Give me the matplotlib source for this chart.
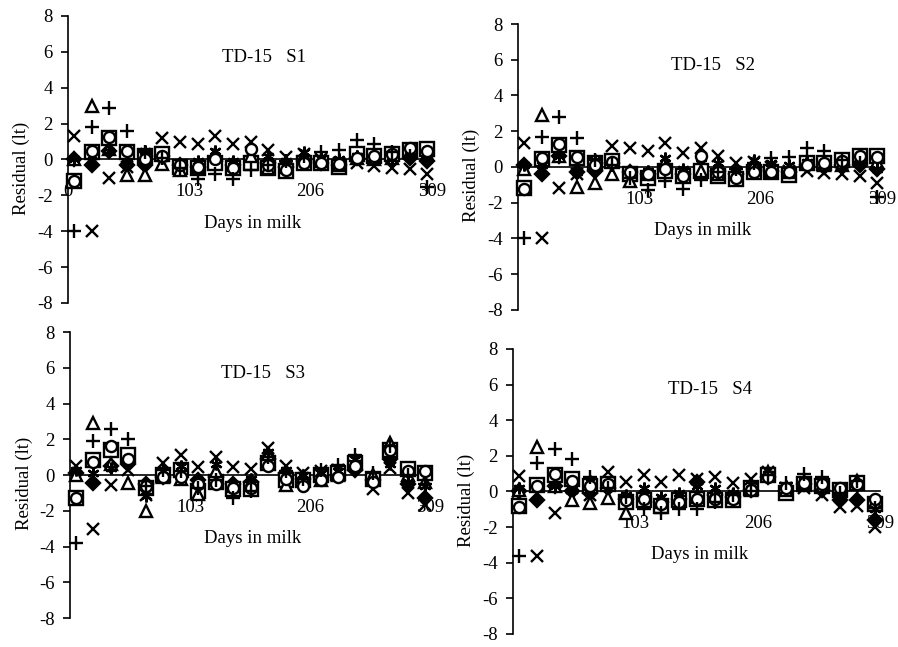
import numpy as np
import matplotlib
matplotlib.use("Agg")
import matplotlib.pyplot as plt

plt.rcParams['font.family'] = ['Liberation Serif', 'DejaVu Serif']
plt.rcParams['axes.unicode_minus'] = False

# test days (days in milk)
days = [5, 20, 35, 50, 65, 80, 95, 110, 125, 140, 155,
        170, 185, 200, 215, 230, 245, 260, 275, 290, 305]

panel_titles = ['TD-15   S1', 'TD-15   S2', 'TD-15   S3', 'TD-15   S4']
x_ticks = [0, 103, 206, 309]
x_ticklabels_first = ['0', '103', '206', '309']
x_ticklabels_other = ['', '103', '206', '309']
y_ticks = [-8, -6, -4, -2, 0, 2, 4, 6, 8]

# S1
s1_diamond = [0.0, -0.3, 0.5, -0.3, -0.3, 0.2, -0.3, -0.4, -0.1, -0.3, 0.0,
              -0.2, -0.4, -0.1, -0.2, -0.3, 0.1, 0.0, 0.0, 0.1, -0.1]
s1_square = [-1.2, 0.4, 1.2, 0.4, 0.2, 0.3, -0.4, -0.5, -0.2, -0.5, -0.2,
             -0.45, -0.65, -0.2, -0.2, -0.4, 0.3, 0.2, 0.3, 0.55, 0.6]
s1_triangle = [0.0, 3.0, 0.6, -0.85, -0.85, -0.25, -0.6, -0.4, 0.3, -0.3, 0.2,
               -0.5, -0.4, 0.2, -0.1, -0.3, 0.1, 0.0, 0.1, 0.4, 0.3]
s1_cross = [1.3, -4.0, -1.05, -0.4, 0.2, 1.2, 0.95, 0.85, 1.3, 0.85, 1.0,
            0.55, 0.15, 0.3, 0.0, -0.2, -0.2, -0.35, -0.45, -0.55, -0.8]
s1_star = [0.0, 0.2, 0.5, -0.2, 0.5, 0.1, -0.3, -0.1, 0.5, -0.1, 0.6,
           0.2, -0.1, 0.4, 0.1, 0.0, 0.2, 0.1, 0.0, 0.2, 0.0]
s1_circle = [-1.2, 0.5, 1.25, 0.45, 0.0, 0.2, -0.3, -0.4, 0.0, -0.45, 0.6,
             -0.3, -0.6, -0.2, -0.2, -0.25, 0.1, 0.2, 0.3, 0.65, 0.5]
s1_plus = [-4.0, 1.8, 2.85, 1.6, 0.4, 0.1, -0.5, -1.1, -0.8, -1.1, -0.6,
           -0.3, -0.1, 0.2, 0.4, 0.55, 1.1, 0.85, 0.4, 0.2, -1.55]

# S2
s2_diamond = [0.1, -0.4, 0.6, -0.3, -0.2, 0.2, -0.3, -0.4, -0.1, -0.4, 0.0,
              -0.2, -0.4, -0.1, -0.2, -0.3, 0.1, 0.0, 0.1, 0.1, -0.1]
s2_square = [-1.2, 0.45, 1.25, 0.5, 0.2, 0.35, -0.4, -0.6, -0.2, -0.5, -0.2,
             -0.5, -0.65, -0.3, -0.3, -0.45, 0.2, 0.2, 0.4, 0.6, 0.6]
s2_triangle = [-0.1, 2.9, 0.6, -1.1, -0.9, -0.4, -0.8, -0.4, 0.3, -0.3, -0.2,
               -0.4, -0.4, 0.2, -0.2, -0.3, 0.2, 0.1, 0.1, 0.5, 0.3]
s2_cross = [1.35, -4.0, -1.2, -0.4, 0.2, 1.15, 1.05, 0.9, 1.35, 0.8, 1.05,
            0.6, 0.2, 0.3, 0.0, -0.2, -0.2, -0.35, -0.4, -0.5, -0.9]
s2_star = [0.1, 0.1, 0.6, -0.3, 0.4, 0.2, -0.3, -0.2, 0.5, -0.1, 0.5,
           0.2, -0.1, 0.4, 0.2, 0.1, 0.3, 0.1, 0.0, 0.2, -0.1]
s2_circle = [-1.25, 0.5, 1.3, 0.55, 0.1, 0.3, -0.3, -0.4, -0.1, -0.5, 0.6,
             -0.3, -0.6, -0.3, -0.3, -0.3, 0.1, 0.2, 0.35, 0.6, 0.55]
s2_plus = [-4.0, 1.7, 2.8, 1.6, 0.4, 0.1, -0.6, -1.3, -0.8, -1.25, -0.7,
           -0.3, -0.1, 0.2, 0.5, 0.55, 1.05, 0.9, 0.4, 0.2, -1.7]

# S3
s3_diamond = [0.1, -0.45, 0.5, 0.6, -0.5, -0.1, 0.0, -0.3, -0.1, -0.5, -0.4,
              0.9, 0.1, -0.2, -0.1, 0.0, 0.3, -0.3, 0.9, -0.5, -1.3]
s3_square = [-1.3, 0.85, 1.4, 1.1, -0.7, 0.0, 0.3, -0.9, -0.4, -0.8, -0.8,
             0.7, -0.3, -0.3, 0.0, 0.1, 0.7, -0.2, 1.4, 0.35, 0.1]
s3_triangle = [0.0, 2.9, 0.6, -0.45, -2.0, -0.1, -0.2, -1.05, 0.2, -0.6, -0.4,
               1.2, -0.55, -0.1, -0.3, 0.0, 0.6, 0.0, 1.8, 0.0, -0.4]
s3_cross = [0.5, -3.0, -0.55, 0.3, -1.1, 0.65, 1.1, 0.45, 1.0, 0.45, 0.35,
            1.5, 0.5, 0.1, 0.2, 0.3, 0.5, -0.8, 0.4, -1.0, -1.7]
s3_star = [0.3, 0.1, 0.4, 0.8, -1.2, 0.2, 0.5, -0.3, 0.6, -0.5, -0.2,
           1.3, 0.3, 0.0, 0.1, 0.2, 0.9, -0.4, 0.6, -0.4, -0.6]
s3_circle = [-1.3, 0.75, 1.6, 0.9, -0.6, -0.1, -0.1, -0.5, -0.5, -0.7, -0.7,
             0.5, -0.2, -0.6, -0.3, -0.1, 0.5, -0.4, 1.4, 0.25, 0.2]
s3_plus = [-3.8, 1.9, 2.6, 2.0, -0.6, 0.3, 0.2, -0.7, -0.3, -1.3, -0.9,
           1.0, 0.2, -0.2, 0.3, 0.55, 1.1, 0.1, 1.6, 0.0, -0.5]

# S4
s4_diamond = [0.0, -0.5, 0.3, 0.0, -0.1, 0.2, -0.4, -0.3, -0.6, -0.4, 0.55,
              -0.2, -0.3, 0.1, 0.8, 0.0, 0.4, 0.1, -0.5, -0.5, -1.6]
s4_square = [-0.8, 0.35, 0.9, 0.7, 0.3, 0.4, -0.6, -0.5, -0.8, -0.5, -0.4,
             -0.5, -0.5, 0.2, 0.9, -0.1, 0.4, 0.3, 0.1, 0.5, -0.7]
s4_triangle = [0.1, 2.5, 0.3, -0.45, -0.65, -0.35, -1.2, -0.2, -0.6, -0.3, -0.3,
               -0.1, -0.3, 0.1, 1.1, 0.1, 0.5, 0.3, 0.1, 0.6, -0.6]
s4_cross = [0.85, -3.6, -1.2, 0.2, -0.2, 1.1, 0.55, 0.95, 0.55, 0.9, 0.7,
            0.8, 0.45, 0.7, 1.1, 0.2, 0.2, -0.2, -0.85, -0.8, -2.0]
s4_star = [0.2, 0.2, 0.3, 0.1, 0.6, 0.5, -0.2, 0.2, -0.3, -0.1, 0.3,
           0.2, -0.1, 0.4, 1.0, 0.3, 0.6, 0.3, -0.3, 0.3, -1.0]
s4_circle = [-0.85, 0.3, 1.0, 0.6, 0.3, 0.4, -0.5, -0.4, -0.7, -0.6, -0.4,
             -0.4, -0.4, 0.1, 0.8, 0.2, 0.5, 0.4, 0.2, 0.4, -0.4]
s4_plus = [-3.6, 1.6, 2.4, 1.8, 0.8, 0.2, -0.3, -1.0, -1.2, -1.0, -1.0,
           -0.6, -0.2, 0.0, 0.9, 0.5, 1.0, 0.8, -0.1, 0.6, -0.9]

panels = [
    [s1_diamond, s1_square, s1_triangle, s1_cross, s1_star, s1_circle, s1_plus],
    [s2_diamond, s2_square, s2_triangle, s2_cross, s2_star, s2_circle, s2_plus],
    [s3_diamond, s3_square, s3_triangle, s3_cross, s3_star, s3_circle, s3_plus],
    [s4_diamond, s4_square, s4_triangle, s4_cross, s4_star, s4_circle, s4_plus],
]

# marker style per series: marker, size, face colour
styles = [
    ('D', 7.0, 'black'),
    ('s', 9.5, 'white'),
    ('^', 8.5, 'white'),
    ('x', 8.0, 'none'),
    ((6, 2, 0), 8.5, 'none'),
    ('o', 8.0, 'white'),
    ('+', 9.5, 'none'),
]

# axes rectangles [left, bottom, width, height] in figure fraction
rects = [
    [0.0757, 0.5317, 0.4053, 0.4436],
    [0.5768, 0.5209, 0.4053, 0.4420],
    [0.0780, 0.0448, 0.4009, 0.4420],
    [0.5713, 0.0201, 0.4087, 0.4405],
]

fig = plt.figure(figsize=(8.98, 6.47), dpi=100)

for k in range(4):
    ax = fig.add_axes(rects[k])
    for vals, (m, ms, fc) in zip(panels[k], styles):
        ax.plot(days, vals, linestyle='none', marker=m, markersize=ms,
                markerfacecolor=fc, markeredgecolor='black',
                markeredgewidth=1.7, clip_on=False, zorder=3)

    ax.set_xlim(0, 309)
    ax.set_ylim(-8, 8)
    ax.set_xticks(x_ticks)
    ax.set_xticklabels(x_ticklabels_first if k == 0 else x_ticklabels_other)
    ax.set_yticks(y_ticks)

    for s in ['top', 'right']:
        ax.spines[s].set_visible(False)
    ax.spines['bottom'].set_position(('data', 0))
    ax.spines['bottom'].set_linewidth(1.2)
    ax.spines['left'].set_linewidth(1.2)

    ax.tick_params(axis='y', direction='out', length=5, width=1.2,
                   labelsize=13.5, pad=6)
    ax.tick_params(axis='x', length=0, labelsize=13.5, pad=17)

    ax.text(166, 5.7, panel_titles[k], ha='center', va='center', fontsize=13.5)
    ax.text(157, -3.55, 'Days in milk', ha='center', va='center', fontsize=13.5)
    ax.text(-0.127, 0.47, 'Residual (lt)', rotation=90, ha='center',
            va='center', fontsize=13.5, transform=ax.transAxes)

fig.savefig('out.png', dpi=100)
